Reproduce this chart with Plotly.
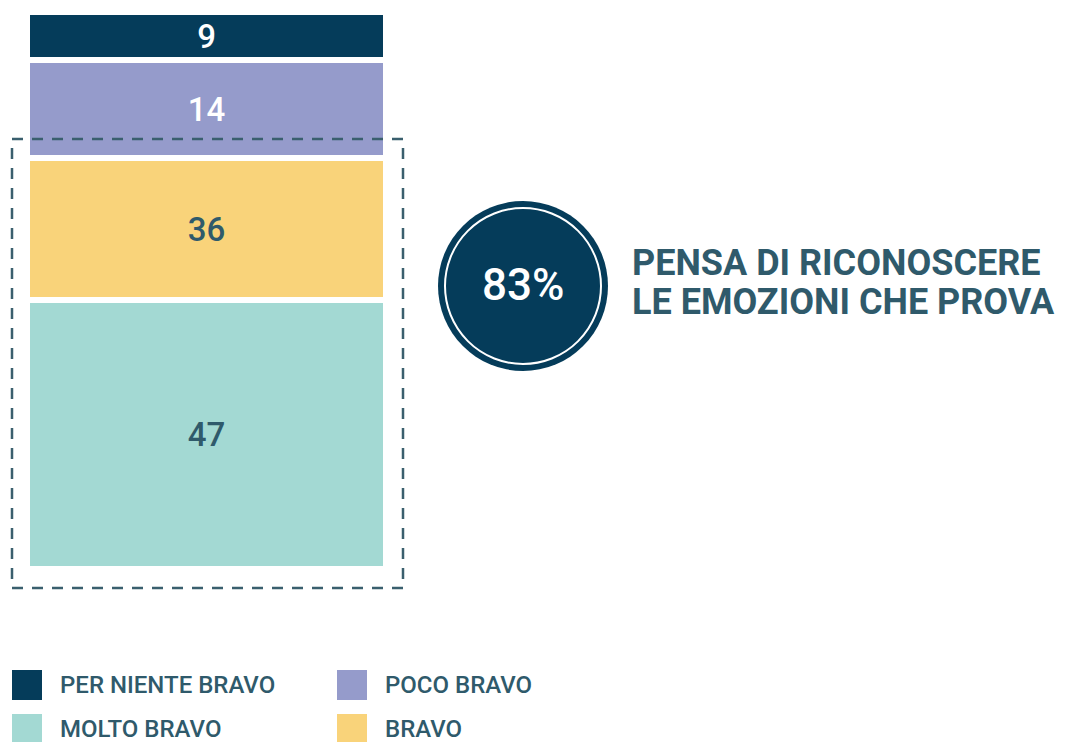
import plotly.graph_objects as go

# ---- data ----
categories = ["MOLTO BRAVO", "BRAVO", "POCO BRAVO", "PER NIENTE BRAVO"]
labels = [47, 36, 14, 9]                      # values printed on the segments
heights = [48.3, 25.4, 17.7, 8.6]             # segment heights as drawn in the picture
colors = ["#A3D9D3", "#F9D37A", "#959BCB", "#053C5A"]
text_colors = ["#2F5A6B", "#2F5A6B", "#FFFFFF", "#FFFFFF"]
highlight_value = "83%"
highlight_lines = ["PENSA DI RICONOSCERE", "LE EMOZIONI CHE PROVA"]
legend_order = ["PER NIENTE BRAVO", "POCO BRAVO", "MOLTO BRAVO", "BRAVO"]

OFF = 8                      # page body margin
W, H = 1072 - OFF, 742 - OFF
FONT = "Roboto, Arial"
TXT = "#2F5A6B"

def px(x):
    return (x - OFF) / W

def py(y):
    return 1 - (y - OFF) / H

fig = go.Figure()
for cat, h, lab, col, tcol in zip(categories, heights, labels, colors, text_colors):
    fig.add_trace(go.Bar(
        x=["bar"], y=[h], name=cat,
        marker=dict(color=col, line=dict(color="white", width=6)),
        text=[str(lab)], textposition="inside", insidetextanchor="middle",
        textfont=dict(family=FONT, size=33, color=tcol, weight=500),
        constraintext="none", hoverinfo="skip", showlegend=False,
    ))

shapes = []
# dashed highlight frame
shapes.append(dict(type="rect", xref="paper", yref="paper",
                   x0=px(12), x1=px(403), y0=py(588), y1=py(139),
                   line=dict(color="#3A5F6E", width=2.5, dash="11px,9px"),
                   layer="above"))
# circle badge
cx, cy, r = 523, 286, 85
shapes.append(dict(type="circle", xref="paper", yref="paper",
                   x0=px(cx - r), x1=px(cx + r), y0=py(cy + r), y1=py(cy - r),
                   fillcolor="#053C5A", line=dict(width=0)))
r2 = 78
shapes.append(dict(type="circle", xref="paper", yref="paper",
                   x0=px(cx - r2), x1=px(cx + r2), y0=py(cy + r2), y1=py(cy - r2),
                   fillcolor="rgba(0,0,0,0)", line=dict(color="white", width=2)))

annotations = [
    dict(text=highlight_value, x=px(cx), y=py(cy - 1), xref="paper", yref="paper",
         showarrow=False, xanchor="center", yanchor="middle",
         font=dict(family=FONT, size=44, color="white", weight=500)),
]
for i, line in enumerate(highlight_lines):
    annotations.append(dict(text=line, x=px(630), y=py(263 + 39 * i),
                            xref="paper", yref="paper", showarrow=False,
                            xanchor="left", yanchor="middle", align="left",
                            font=dict(family=FONT, size=36, color=TXT, weight=700)))

# legend (2 x 2 grid)
col_map = dict(zip(categories, colors))
pos = [(12, 670), (337, 670), (12, 714), (337, 714)]
for name, (lx, ly) in zip(legend_order, pos):
    shapes.append(dict(type="rect", xref="paper", yref="paper",
                       x0=px(lx), x1=px(lx + 30), y0=py(ly + 30), y1=py(ly),
                       fillcolor=col_map[name], line=dict(width=0)))
    annotations.append(dict(text=name, x=px(lx + 46), y=py(ly + 15),
                            xref="paper", yref="paper", showarrow=False,
                            xanchor="left", yanchor="middle",
                            font=dict(family=FONT, size=24, color=TXT, weight=500)))

fig.update_layout(
    width=W, height=H, margin=dict(l=0, r=0, t=0, b=0),
    paper_bgcolor="white", plot_bgcolor="white",
    barmode="stack", bargap=0,
    xaxis=dict(domain=[px(27), px(386)], visible=False, fixedrange=True),
    yaxis=dict(domain=[py(569), py(12)], range=[0, sum(heights)], visible=False,
               fixedrange=True),
    shapes=shapes, annotations=annotations,
)

fig.write_html("out.html")
